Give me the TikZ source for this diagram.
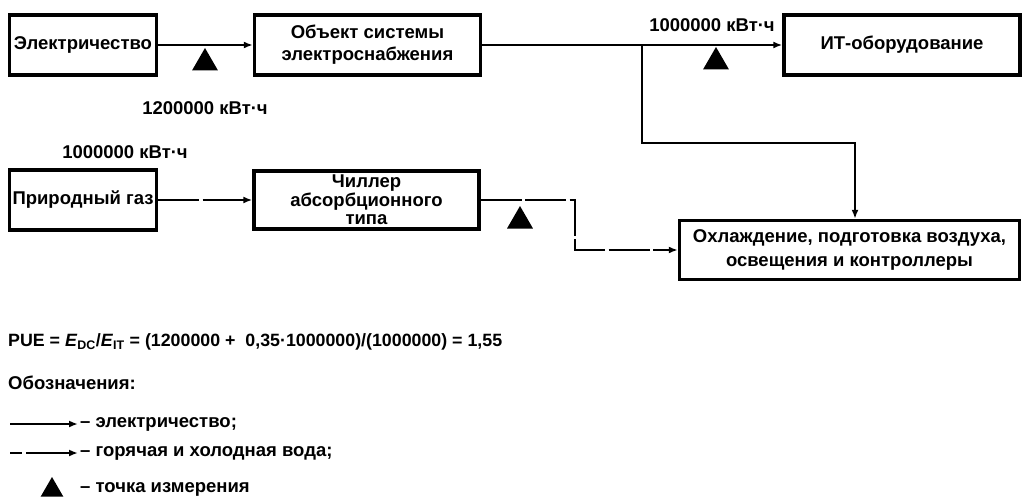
\documentclass[tikz,border=0pt]{standalone}
\usepackage{fontspec}
\setmainfont{Liberation Sans}
\usetikzlibrary{arrows.meta,shapes.geometric}
\tikzset{
  boxn/.style={draw, line width=3.4pt, inner sep=0pt, align=center, font=\fontsize{18.5}{22}\selectfont\bfseries},
  lbl/.style={inner sep=0pt, font=\fontsize{18.5}{22}\selectfont\bfseries},
  elec/.style={line width=2.5pt, -{Latex[length=9pt,width=7pt]}},
  water/.style={line width=2.5pt, dash pattern=on 41pt off 3.5pt, -{Latex[length=9pt,width=7pt]}},
  meter/.style={regular polygon, regular polygon sides=3, fill=black, inner sep=0pt, minimum size=#1},
  meter/.default=30pt
}
\begin{document}
\begin{tikzpicture}[x=1pt,y=-1pt]
\useasboundingbox (0,0) rectangle (1023,503);
% boxes
\node[boxn, minimum width=147pt, minimum height=60pt] (el) at (83,45) {Электричество};
\node[boxn, minimum width=226pt, minimum height=60pt] (obj) at (367.5,45) {Объект системы\\электроснабжения};
\node[boxn, minimum width=236pt, minimum height=60pt] (it) at (902,45) {ИТ-оборудование};
\node[boxn, minimum width=147pt, minimum height=60pt] (gas) at (83,200) {Природный газ};
\node[boxn, minimum width=225pt, minimum height=58pt, font=\fontsize{18.5}{18.5}\selectfont\bfseries] (chil) at (366.5,200) {Чиллер\\абсорбционного\\типа};
\node[boxn, minimum width=340pt, minimum height=59pt, font=\fontsize{18.5}{24}\selectfont\bfseries] (cool) at (849.5,250) {Охлаждение, подготовка воздуха,\\освещения и контроллеры};
% meters
\node[meter] (m1) at (205,63) {};
\node[meter] (m2) at (716,62) {};
\node[meter] (m3) at (520,221) {};
% coordinates
\coordinate (br) at (642,45);
\coordinate (brd) at (642,143);
\coordinate (brr) at (855,143);
\coordinate (w1) at (575,200);
\coordinate (w2) at (575,250);
% connectors
\draw[elec] (el.east) -- (obj.west);
\draw[elec] (obj.east) -- (it.west);
\draw[elec] (br) -- (brd) -- (brr) -- (brr |- cool.north);
\draw[water] (gas.east) -- (chil.west);
\draw[water] (chil.east) -- (w1) -- (w2) -- (cool.west);
% labels
\node[lbl] (l1) at (205,108) {1200000 кВт·ч};
\node[lbl] (l2) at (125,152) {1000000 кВт·ч};
\node[lbl] (l3) at (712,25) {1000000 кВт·ч};
\node[lbl, anchor=west, font=\fontsize{17.8}{20}\selectfont\bfseries] (pue) at (8,342) {PUE = \textit{E}\textsubscript{DC}/\textit{E}\textsubscript{IT} = (1200000 +\ \ 0,35·1000000)/(1000000) = 1,55};
\node[lbl, anchor=west] (leg) at (8,383) {Обозначения:};
% legend
\coordinate (a1) at (10,424);
\coordinate (a2) at (78,424);
\coordinate (b1) at (10,453);
\coordinate (b2) at (78,453);
\draw[elec] (a1) -- (a2);
\draw[line width=2.5pt, dash pattern=on 12pt off 4pt on 60pt, -{Latex[length=9pt,width=7pt]}] (b1) -- (b2);
\node[lbl, anchor=west] (t1) at (80,424) {– электричество;};
\node[lbl, anchor=west] (t2) at (80,453) {– горячая и холодная вода;};
\node[meter=26pt] (m4) at (52,490) {};
\node[lbl, anchor=west] (t3) at (80,489) {– точка измерения};
\end{tikzpicture}
\end{document}
